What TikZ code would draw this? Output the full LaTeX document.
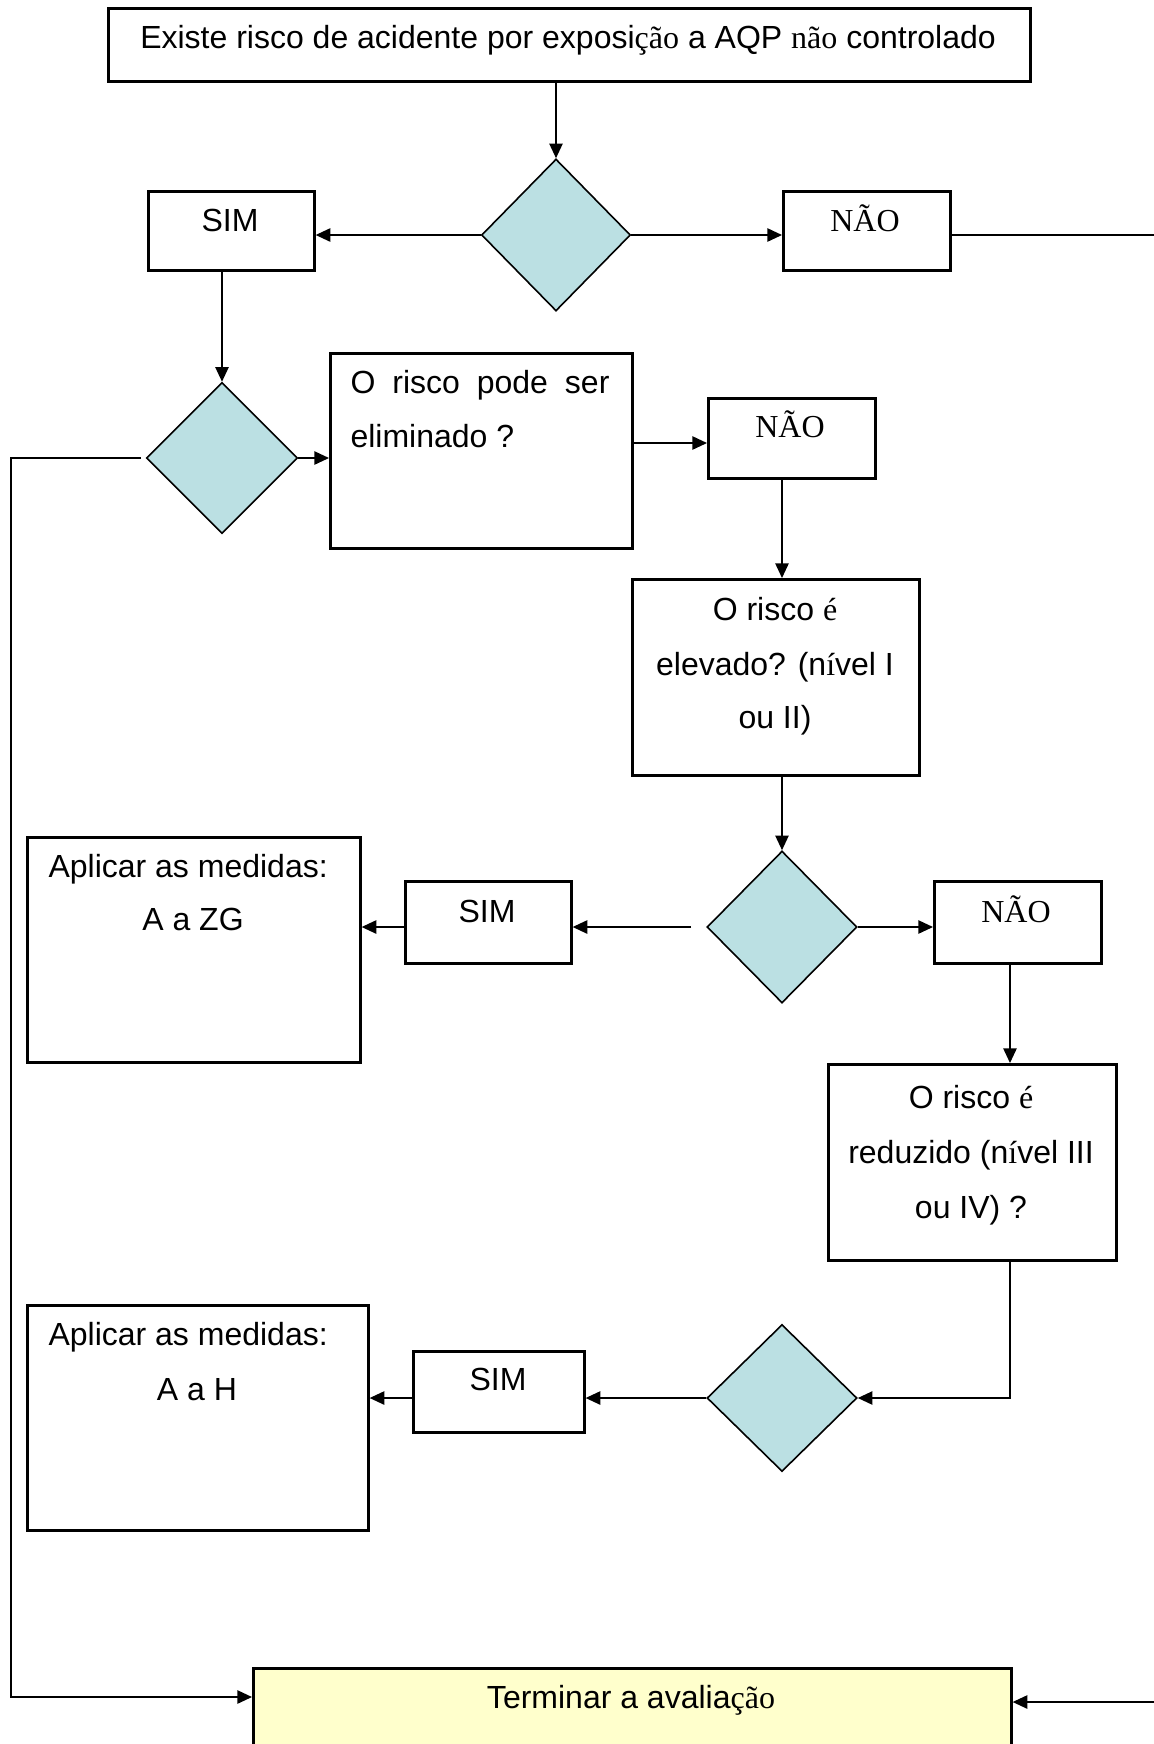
\documentclass[tikz,border=0pt]{standalone}
\usepackage{fontspec}
\setmainfont{Liberation Sans}
\newfontfamily\sr{Liberation Serif}
\usetikzlibrary{shapes.geometric,arrows.meta,calc}
\definecolor{dfill}{RGB}{187,224,227}
\definecolor{tfill}{RGB}{255,255,204}
\begin{document}
\begin{tikzpicture}[x=0.375pt,y=-0.375pt,
  font=\fontsize{12pt}{14pt}\selectfont,
  box/.style={draw, line width=1pt, inner sep=0pt, anchor=north west},
  dia/.style={diamond, draw, line width=0.6pt, fill=dfill, inner sep=0pt},
  txt/.style={inner sep=0pt, anchor=base},
  arr/.style={line width=0.6pt, -{Triangle[length=5.5pt,width=5pt]}},
  con/.style={line width=0.6pt}
]
\useasboundingbox (0,0) rectangle (1154,1744);
\clip (0,0) rectangle (1154,1744);
\fill[white] (0,0) rectangle (1154,1744);

% boxes
\node[box, minimum width=922*0.375pt, minimum height=73*0.375pt] (top) at (107,7) {};
\node[box, minimum width=166*0.375pt, minimum height=79*0.375pt] (sim1) at (147,190) {};
\node[box, minimum width=167*0.375pt, minimum height=79*0.375pt] (nao1) at (782,190) {};
\node[box, minimum width=302*0.375pt, minimum height=195*0.375pt] (elim) at (329,352) {};
\node[box, minimum width=167*0.375pt, minimum height=80*0.375pt] (nao2) at (707,397) {};
\node[box, minimum width=287*0.375pt, minimum height=196*0.375pt] (box3) at (631,578) {};
\node[box, minimum width=166*0.375pt, minimum height=82*0.375pt] (sim2) at (404,880) {};
\node[box, minimum width=333*0.375pt, minimum height=225*0.375pt] (apply1) at (26,836) {};
\node[box, minimum width=167*0.375pt, minimum height=82*0.375pt] (nao3) at (933,880) {};
\node[box, minimum width=288*0.375pt, minimum height=196*0.375pt] (box4) at (827,1063) {};
\node[box, minimum width=171*0.375pt, minimum height=81*0.375pt] (sim3) at (412,1350) {};
\node[box, minimum width=341*0.375pt, minimum height=225*0.375pt] (apply2) at (26,1304) {};
\node[box, fill=tfill, minimum width=758*0.375pt, minimum height=133*0.375pt] (term) at (252,1667) {};

% diamonds
\node[dia, minimum width=149*0.375pt, minimum height=152*0.375pt] (d1) at (556,235) {};
\node[dia, minimum width=151*0.375pt, minimum height=151*0.375pt] (d2) at (222,458) {};
\node[dia, minimum width=150*0.375pt, minimum height=152*0.375pt] (d3) at (782,927) {};
\node[dia, minimum width=150*0.375pt, minimum height=147*0.375pt] (d4) at (782,1398) {};

% texts
\node[txt] (t1) at (568,48) {Existe risco de acidente por exposi{\sr ção} a AQP {\sr não} controlado};
\node[txt] (ts1) at (230,231) {SIM};
\node[txt] (tn1) at (865,231) {\sr NÃO};
\node[txt, anchor=base west] (te1) at (350,393) {\makebox[97.1pt][s]{O risco pode ser}};
\node[txt, anchor=base west] (te2) at (350,447) {eliminado ?};
\node[txt] (tn2) at (790,437) {\sr NÃO};
\node[txt] (tb31) at (775,620) {O risco {\sr é}};
\node[txt] (tb32) at (775,675) {elevado? (n{\sr í}vel I};
\node[txt] (tb33) at (775,728) {ou II)};
\node[txt] (ts2) at (487,922) {SIM};
\node[txt, anchor=base west] (ta1) at (48,877) {Aplicar as medidas:};
\node[txt] (ta2) at (193,930) {A a ZG};
\node[txt] (tn3) at (1016,922) {\sr NÃO};
\node[txt] (tb41) at (971,1108) {O risco {\sr é}};
\node[txt] (tb42) at (971,1163) {reduzido (n{\sr í}vel III};
\node[txt] (tb43) at (971,1218) {ou IV) ?};
\node[txt] (ts3) at (498,1390) {SIM};
\node[txt, anchor=base west] (ta3) at (48,1345) {Aplicar as medidas:};
\node[txt] (ta4) at (197,1400) {A a H};
\node[txt] (tt) at (631,1708) {Terminar a avalia{\sr ção}};

% helper coordinates
\coordinate (er1) at (1154,235);
\coordinate (lb) at (11,1697);
\coordinate (rb) at (1154,1702);
\coordinate (c4) at (1010,0);

% connectors
\draw[arr] (d1.north |- top.south) -- (d1.north);
\draw[arr] (d1.west) -- (sim1.east |- d1.west);
\draw[arr] (d1.east) -- (nao1.west |- d1.east);
\draw[con] (nao1.east |- d1.east) -- (er1);
\draw[arr] (d2.north |- sim1.south) -- (d2.north);
\draw[arr] (d2.east) -- (elim.west |- d2.east);
\draw[arr] ($(d2.west)+(-5,0)$) -- (lb |- d2.west) -- (lb) -- (lb -| term.west);
\draw[arr] (rb) -- (rb -| term.east);
\draw[arr] (elim.east |- 0,443) -- (nao2.west |- 0,443);
\draw[arr] (d3.north |- nao2.south) -- (d3.north |- box3.north);
\draw[arr] (d3.north |- box3.south) -- (d3.north);
\draw[arr] ($(d3.west)+(-15,0)$) -- (sim2.east |- d3.west);
\draw[arr] (sim2.west |- d3.west) -- (apply1.east |- d3.west);
\draw[arr] (d3.east) -- (nao3.west |- d3.east);
\draw[arr] (c4 |- nao3.south) -- (c4 |- box4.north);
\draw[arr] (c4 |- box4.south) -- (c4 |- d4.east) -- (d4.east);
\draw[arr] (d4.west) -- (sim3.east |- d4.west);
\draw[arr] (sim3.west |- d4.west) -- (apply2.east |- d4.west);
\end{tikzpicture}
\end{document}
